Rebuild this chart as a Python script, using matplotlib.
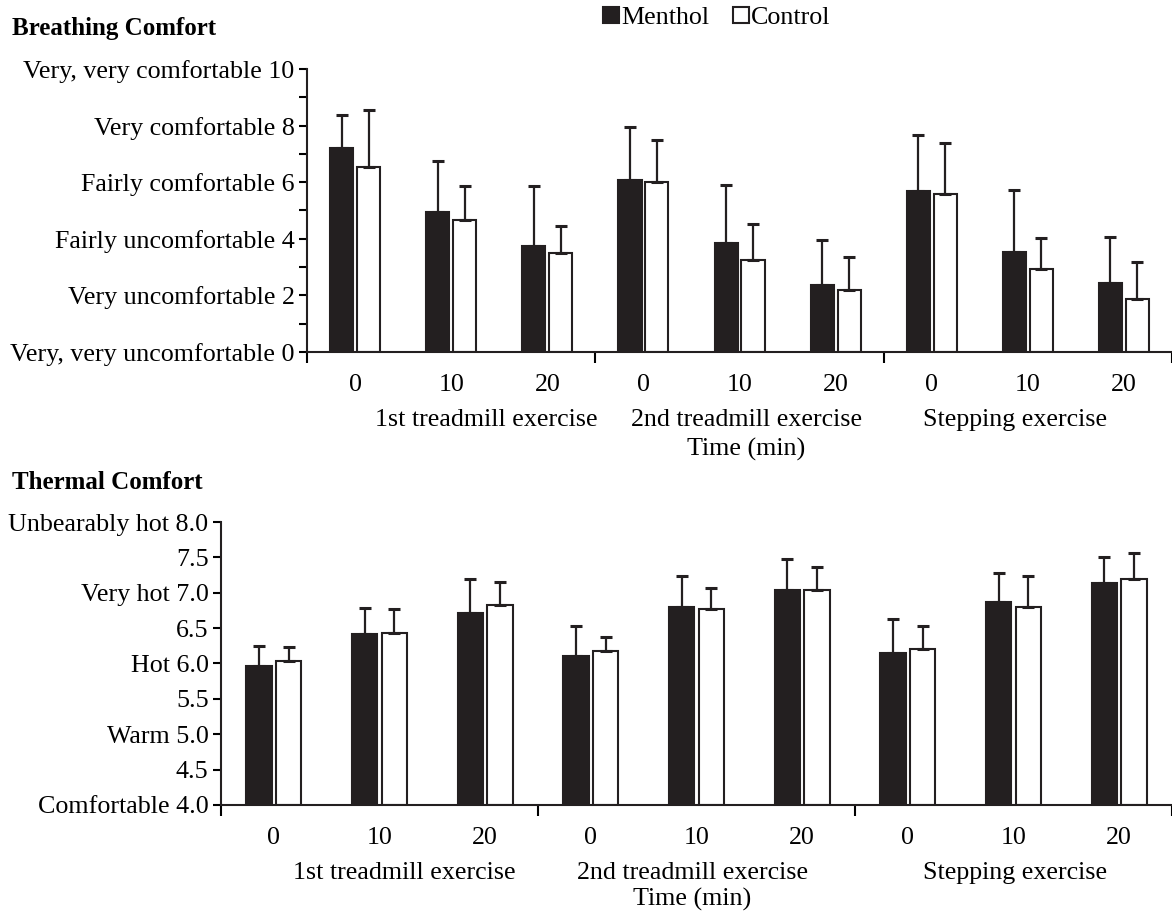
import numpy as np
import matplotlib
matplotlib.use("Agg")
import matplotlib.pyplot as plt
from matplotlib.patches import Patch

plt.rcParams['font.family'] = ['Liberation Serif', 'DejaVu Serif']

# time points and exercise phases
times = ['0', '10', '20', '0', '10', '20', '0', '10', '20']
phases = ['1st treadmill exercise', '2nd treadmill exercise', 'Stepping exercise']

# breathing comfort (mean and upper SD)
menthol_breath = [7.20, 4.94, 3.76, 6.09, 3.85, 2.36, 5.69, 3.52, 2.45]
menthol_breath_sd = [1.19, 1.82, 2.10, 1.87, 2.05, 1.58, 1.97, 2.20, 1.63]
control_breath = [6.53, 4.66, 3.50, 6.00, 3.26, 2.18, 5.59, 2.95, 1.86]
control_breath_sd = [2.02, 1.22, 0.94, 1.50, 1.27, 1.17, 1.81, 1.07, 1.33]
breath_ticks = ['Very, very uncomfortable 0', '', 'Very uncomfortable 2', '',
                'Fairly uncomfortable 4', '', 'Fairly comfortable 6', '',
                'Very comfortable 8', '', 'Very, very comfortable 10']

# thermal comfort (mean and upper SD)
menthol_thermal = [5.96, 6.41, 6.72, 6.11, 6.80, 7.04, 6.155, 6.87, 7.14]
menthol_thermal_sd = [0.285, 0.38, 0.48, 0.42, 0.43, 0.43, 0.48, 0.41, 0.37]
control_thermal = [6.03, 6.43, 6.82, 6.17, 6.77, 7.035, 6.21, 6.80, 7.19]
control_thermal_sd = [0.205, 0.34, 0.33, 0.20, 0.30, 0.325, 0.32, 0.43, 0.37]
thermal_ticks = ['Comfortable 4.0', '4.5', 'Warm 5.0', '5.5', 'Hot 6.0', '6.5',
                 'Very hot 7.0', '7.5', 'Unbearably hot 8.0']

DARK = '#231f20'
FS = 18.7


# draw one grouped bar panel
def draw_panel(ax, m, m_sd, c, c_sd, ylim, yticks, ylabels, phase_x, bottom):
    x = np.arange(len(times))
    w = 0.24
    off = 0.14
    err_kw = dict(ecolor=DARK, elinewidth=1.6, capsize=4.5, capthick=2.2)
    ax.bar(x - off, np.array(m) - bottom, w, bottom=bottom, color=DARK,
           edgecolor=DARK, linewidth=1.5, yerr=[np.zeros(len(m)), m_sd],
           error_kw=err_kw, zorder=2)
    ax.bar(x + off, np.array(c) - bottom, w, bottom=bottom, color='white',
           edgecolor=DARK, linewidth=1.5, yerr=[np.zeros(len(c)), c_sd],
           error_kw=err_kw, zorder=2)
    ax.set_xlim(-0.5, len(times) - 0.5)
    ax.set_ylim(*ylim)
    ax.set_yticks(yticks)
    ax.set_yticklabels(ylabels)
    ax.set_xticks([-0.5, 2.5, 5.5, 8.5])
    ax.set_xticklabels([])
    ax.set_xticks(x, minor=True)
    ax.set_xticklabels(times, minor=True)
    ax.tick_params(axis='x', which='minor', length=0, pad=16, labelsize=FS)
    ax.tick_params(axis='x', which='major', length=8, width=1.5, direction='out')
    ax.tick_params(axis='y', length=6, width=1.5, direction='out', pad=3,
                   labelsize=FS)
    for s in ['top', 'right']:
        ax.spines[s].set_visible(False)
    for s in ['left', 'bottom']:
        ax.spines[s].set_linewidth(1.5)
        ax.spines[s].set_color(DARK)
    for p, px in zip(phases, phase_x):
        ax.text(px, -0.24, p, transform=ax.get_xaxis_transform(),
                ha='center', va='center', fontsize=FS)


fig = plt.figure(figsize=(11.72, 9.11), dpi=100)

ax1 = fig.add_axes([0.262, 0.6136, 0.738, 0.3107])
draw_panel(ax1, menthol_breath, menthol_breath_sd, control_breath,
           control_breath_sd, (0, 10), np.arange(0, 11, 1), breath_ticks,
           [1.36, 4.07, 6.87], 0)
ax1.text(4.07, -0.345, 'Time (min)', transform=ax1.get_xaxis_transform(),
         ha='center', va='center', fontsize=FS)

ax2 = fig.add_axes([0.1886, 0.1164, 0.8114, 0.3106])
draw_panel(ax2, menthol_thermal, menthol_thermal_sd, control_thermal,
           control_thermal_sd, (4, 8), np.arange(4, 8.01, 0.5), thermal_ticks,
           [1.23, 3.96, 7.01], 4)
ax2.text(3.96, -0.334, 'Time (min)', transform=ax2.get_xaxis_transform(),
         ha='center', va='center', fontsize=FS)

fig.text(0.010, 1 - 29 / 911, 'Breathing Comfort', fontsize=18,
         fontweight='bold', va='center', ha='left')
fig.text(0.010, 1 - 482 / 911, 'Thermal Comfort', fontsize=18,
         fontweight='bold', va='center', ha='left')

handles = [Patch(facecolor=DARK, edgecolor=DARK, linewidth=1.5, label='Menthol'),
           Patch(facecolor='white', edgecolor=DARK, linewidth=1.5, label='Control')]
fig.legend(handles=handles, loc='center', bbox_to_anchor=(717 / 1172, 1 - 18 / 911),
           ncol=2, frameon=False, fontsize=FS, handlelength=0.6, handleheight=0.6,
           handletextpad=0.1, columnspacing=0.9, borderpad=0)

fig.savefig('out.png', dpi=100)
